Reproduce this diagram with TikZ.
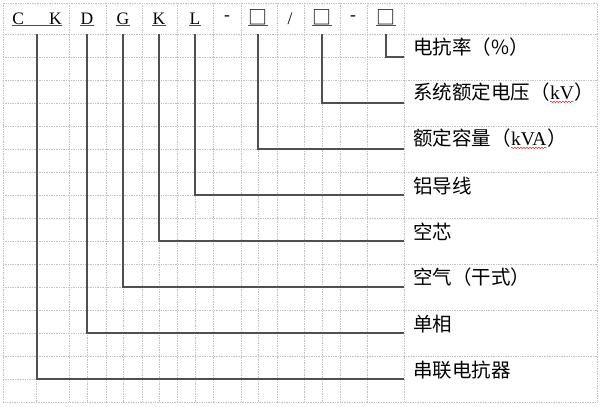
\documentclass[tikz,border=0pt]{standalone}
\usepackage{fontspec}
\setmainfont{Liberation Serif}
\newfontfamily\cjk{Noto Sans CJK SC}
\usetikzlibrary{positioning}
\usetikzlibrary{decorations.pathmorphing}
\definecolor{rulegray}{RGB}{80, 80, 80}
\definecolor{gridgray}{RGB}{195, 195, 195}
\definecolor{spellred}{RGB}{230, 40, 40}
\newcommand{\mSpell}[1]{\tikz[baseline=(w.base)]{\node[inner sep=0pt] (w) {\rmfamily #1};
  \draw[spellred, line width=0.5pt, decorate, decoration={snake, amplitude=0.7pt, segment length=3pt}]
  ([yshift=-2.5pt]w.base west) -- ([yshift=-2.5pt]w.base east);}}

\begin{document}
\begin{tikzpicture}[%
    x=1pt, y=-1pt,        % pixel-like units, y going down
    ]
% -------------------------------------------------
% Styles
\tikzset{
  gridline/.style={draw=gridgray, densely dotted, line width=0.7pt},
  conn/.style={draw=rulegray, line width=1.2pt},
  uline/.style={draw=rulegray, line width=1pt},
  hdr/.style={inner sep=0pt, anchor=base, font=\fontsize{17.5}{20}\selectfont},
  hbox/.style={hdr, font=\cjk\fontsize{19}{20}\selectfont},
  lbl/.style={inner sep=0pt, anchor=south west, font=\cjk\fontsize{19.5}{22}\selectfont}
  }
\useasboundingbox (0,0) rectangle (600,407);
% -------------------------------------------------
% The table grid
\draw[gridline] (3,3) rectangle (597,402);
\draw[gridline] (3,34) -- (597,34);
\foreach \y in {80,126,...,356} \draw[gridline] (3,\y) -- (597,\y);
\foreach \y in {57,103,...,379} \draw[gridline] (3,\y) -- (404,\y);
\foreach \x in {69,106,142,177,213,241,277,304,340,367,404} \draw[gridline] (\x,3) -- (\x,402);
\foreach \x in {36,87,123,159,195,258,322} \draw[gridline] (\x,34) -- (\x,402);

% -------------------------------------------------
% Header: the model code
\node[hdr] (cC) at (37,24) {C\hspace{25pt}K};
\node[hdr] (cD) at (87,24) {D};
\node[hdr] (cG) at (123,24) {G};
\node[hdr] (cK) at (159,24) {K};
\node[hdr] (cL) at (195,24) {L};
\node[hdr] (dashA) at (227,20) {-};
\node[hbox] (boxA) at (258,24) {□};
\node[hdr] (slash) at (290,24) {/};
\node[hbox] (boxB) at (322,24) {□};
\node[hdr] (dashB) at (353,20) {-};
\node[hbox] (boxC) at (386,24) {□};

\draw[uline] ([yshift=-1.5pt]cC.base west) -- ([yshift=-1.5pt]cC.base east);
\draw[uline] ([yshift=-1.5pt]cD.base west) -- ([yshift=-1.5pt]cD.base east);
\draw[uline] ([yshift=-1.5pt]cG.base west) -- ([yshift=-1.5pt]cG.base east);
\draw[uline] ([yshift=-1.5pt]cK.base west) -- ([yshift=-1.5pt]cK.base east);
\draw[uline] ([yshift=-1.5pt]cL.base west) -- ([yshift=-1.5pt]cL.base east);
\draw[uline] ([yshift=-1.5pt]boxA.base west) -- ([yshift=-1.5pt]boxA.base east);
\draw[uline] ([yshift=-1.5pt]boxB.base west) -- ([yshift=-1.5pt]boxB.base east);
\draw[uline] ([yshift=-1.5pt]boxC.base west) -- ([yshift=-1.5pt]boxC.base east);

% -------------------------------------------------
% Line ends and the meanings
\coordinate (top) at (0,34);
\foreach \i in {1,...,8} \coordinate (e\i) at (404, 11+46*\i);

\node[lbl, above right=0pt and 9pt of e1] (rate) {电抗率（\%）};
\node[lbl, above right=0pt and 9pt of e2] (volt) {系统额定电压（\mSpell{kV}）};
\node[lbl, above right=0pt and 9pt of e3] (capa) {额定容量（\mSpell{kVA}）};
\node[lbl, above right=0pt and 9pt of e4] (alu) {铝导线};
\node[lbl, above right=0pt and 9pt of e5] (core) {空芯};
\node[lbl, above right=0pt and 9pt of e6] (air) {空气（干式）};
\node[lbl, above right=0pt and 9pt of e7] (phase) {单相};
\node[lbl, above right=0pt and 9pt of e8] (series) {串联电抗器};

\draw[conn] (boxC |- top) |- (e1);
\draw[conn] (boxB |- top) |- (e2);
\draw[conn] (boxA |- top) |- (e3);
\draw[conn] (cL |- top) |- (e4);
\draw[conn] (cK |- top) |- (e5);
\draw[conn] (cG |- top) |- (e6);
\draw[conn] (cD |- top) |- (e7);
\draw[conn] (cC |- top) |- (e8);
\end{tikzpicture}
\end{document}
